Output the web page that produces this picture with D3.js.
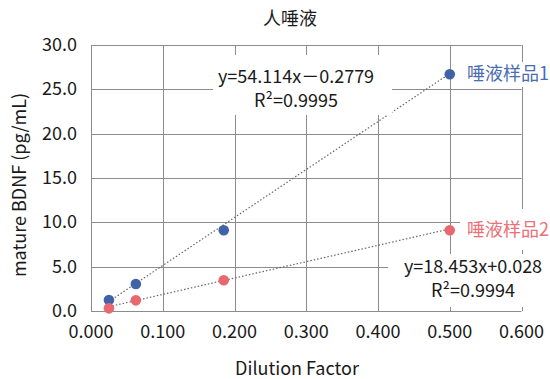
<!DOCTYPE html>
<html>
<head>
<meta charset="utf-8">
<script src="https://cdn.jsdelivr.net/npm/d3@7"></script>
<style>
  body { margin: 0; background: #fff; }
  text { font-family: "Noto Sans CJK SC", "Noto Sans", sans-serif; fill: #1a1a1a; }
</style>
</head>
<body>
<div id="chart"></div>
<script>
// dilution factors on x, measured BDNF on y
const dilution = [0.025, 0.0625, 0.185, 0.5];
const sample1 = [1.24, 3.05, 9.1, 26.7];
const sample2 = [0.3, 1.2, 3.46, 9.1];
const seriesNames = ["唾液样品1", "唾液样品2"];
// regression fits shown on the chart
const slopes = [54.114, 18.453];
const intercepts = [-0.2779, 0.028];
const fitLabels = [["y=54.114x－0.2779", "R²=0.9995"], ["y=18.453x+0.028", "R²=0.9994"]];
const xTicks = [0, 0.1, 0.2, 0.3, 0.4, 0.5, 0.6];
const yTicks = [0, 5, 10, 15, 20, 25, 30];

const width = 550, height = 379;
const colors = ["#4063a8", "#e9686e"];
const textColors = ["#4a6cb0", "#ec7076"];

var svg = d3.select("#chart").append("svg")
    .attr("width", width)
    .attr("height", height);

var x = d3.scaleLinear().domain([0, 0.6]).range([91, 521.5]);
var y = d3.scaleLinear().domain([0, 30]).range([311, 45]);

//grid lines
svg.append("g").selectAll("line.v")
    .data(xTicks)
    .enter().append("line")
    .attr("x1", d => Math.round(x(d)) + 0.5).attr("x2", d => Math.round(x(d)) + 0.5)
    .attr("y1", y(0)).attr("y2", y(30))
    .attr("stroke", "#8c8c8c");

svg.append("g").selectAll("line.h")
    .data(yTicks)
    .enter().append("line")
    .attr("x1", x(0)).attr("x2", x(0.6))
    .attr("y1", d => Math.round(y(d)) + 0.5).attr("y2", d => Math.round(y(d)) + 0.5)
    .attr("stroke", "#8c8c8c");

//tick labels
svg.append("g").selectAll("text")
    .data(yTicks)
    .enter().append("text")
    .attr("x", 77)
    .attr("y", d => y(d) + 6)
    .attr("text-anchor", "end")
    .style("font-size", "18px")
    .text(d => d3.format(".1f")(d));

svg.append("g").selectAll("text")
    .data(xTicks)
    .enter().append("text")
    .attr("x", d => x(d))
    .attr("y", 338)
    .attr("text-anchor", "middle")
    .style("font-size", "18px")
    .text(d => d3.format(".3f")(d));

//trend lines
var series = [sample1, sample2];
series.forEach(function(s, i) {
    var x0 = d3.min(dilution), x1 = d3.max(dilution);
    svg.append("line")
        .attr("x1", x(x0)).attr("y1", y(slopes[i] * x0 + intercepts[i]))
        .attr("x2", x(x1)).attr("y2", y(slopes[i] * x1 + intercepts[i]))
        .attr("stroke", "#666")
        .attr("stroke-width", 1.2)
        .attr("stroke-dasharray", "1.5,2");
});

//points
series.forEach(function(s, i) {
    svg.append("g").selectAll("circle")
        .data(s)
        .enter().append("circle")
        .attr("cx", (d, j) => x(dilution[j]))
        .attr("cy", d => y(d))
        .attr("r", 5.3)
        .attr("fill", colors[i]);
});

//label boxes (white backgrounds over the grid)
var boxes = [[213, 55, 179, 60], [388, 254, 162, 53]];
var legendBoxes = [[460, 62, 90, 25], [460, 209, 90, 41]];
boxes.concat(legendBoxes).forEach(function(b) {
    svg.append("rect")
        .attr("x", b[0]).attr("y", b[1])
        .attr("width", b[2]).attr("height", b[3])
        .attr("fill", "#fff");
});

//regression labels
var fitPos = [[296, 83], [473, 273]];
fitLabels.forEach(function(lines, i) {
    lines.forEach(function(t, k) {
        svg.append("text")
            .attr("x", fitPos[i][0])
            .attr("y", fitPos[i][1] + k * 24)
            .attr("text-anchor", "middle")
            .style("font-size", "18px")
            .text(t);
    });
});

//series names next to the last point
seriesNames.forEach(function(n, i) {
    svg.append("text")
        .attr("x", 467)
        .attr("y", y(series[i][3]) + 6)
        .style("font-size", "18px")
        .style("fill", textColors[i])
        .text(n);
});

//titles
svg.append("text")
    .attr("x", 290).attr("y", 25)
    .attr("text-anchor", "middle")
    .style("font-size", "18px")
    .text("人唾液");

svg.append("text")
    .attr("x", 297).attr("y", 375)
    .attr("text-anchor", "middle")
    .style("font-size", "18px")
    .text("Dilution Factor");

svg.append("text")
    .attr("transform", "translate(26,185) rotate(-90)")
    .attr("text-anchor", "middle")
    .style("font-size", "18px")
    .text("mature BDNF (pg/mL)");
</script>
</body>
</html>
